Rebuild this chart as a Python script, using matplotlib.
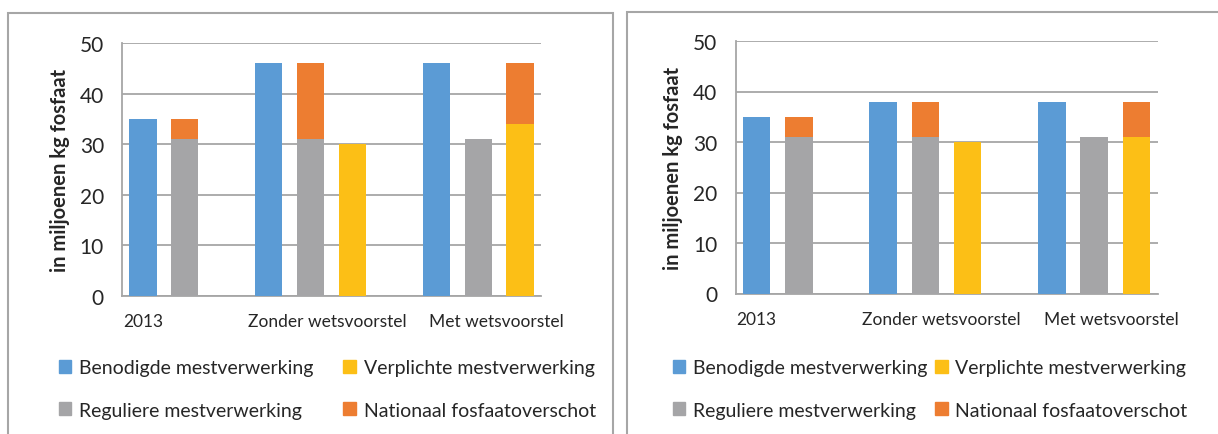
import matplotlib.pyplot as plt
from matplotlib.patches import Rectangle, Patch

plt.rcParams['font.family'] = ['Lato', 'DejaVu Sans']

groups = ['2013', 'Zonder wetsvoorstel', 'Met wetsvoorstel']
series = ['Benodigde mestverwerking', 'Verplichte mestverwerking',
          'Reguliere mestverwerking', 'Nationaal fosfaatoverschot']

# linker grafiek
benodigd_l = [35, 46, 46]
regulier_l = [31, 31, 31]
verplicht_l = [None, 30, 34]
overschot_l = [4, 15, 12]

# rechter grafiek
benodigd_r = [35, 38, 38]
regulier_r = [31, 31, 31]
verplicht_r = [None, 30, 31]
overschot_r = [4, 7, 7]

# op welke balk het overschot gestapeld staat
overschot_op = ['regulier', 'regulier', 'verplicht']

colors = {'benodigd': '#5b9bd5', 'verplicht': '#fcbf16',
          'regulier': '#a5a5a7', 'overschot': '#ed7d31'}
grey = '#a6a6a6'
text_col = '#262626'

group_start = [0, 3, 7]
width = 0.65


def draw(ax, benodigd, regulier, verplicht, overschot):
    for i in range(len(groups)):
        x0 = group_start[i]
        ax.bar(x0, benodigd[i], width, color=colors['benodigd'], zorder=3)
        ax.bar(x0 + 1, regulier[i], width, color=colors['regulier'], zorder=3)
        if verplicht[i] is not None:
            ax.bar(x0 + 2, verplicht[i], width, color=colors['verplicht'], zorder=3)
        if overschot_op[i] == 'regulier':
            ax.bar(x0 + 1, overschot[i], width, bottom=regulier[i],
                   color=colors['overschot'], zorder=3)
        else:
            ax.bar(x0 + 2, overschot[i], width, bottom=verplicht[i],
                   color=colors['overschot'], zorder=3)

    ax.set_xlim(-0.5, 9.5)
    ax.set_ylim(0, 50)
    ax.set_yticks(range(0, 51, 10))
    ax.yaxis.grid(True, color=grey, linewidth=1.3, zorder=0)
    ax.set_xticks([])
    for s in ['top', 'right']:
        ax.spines[s].set_visible(False)
    for s in ['left', 'bottom']:
        ax.spines[s].set_color(grey)
        ax.spines[s].set_linewidth(1.3)
    ax.tick_params(axis='y', length=0, pad=13, labelsize=15, labelcolor=text_col)
    ax.set_ylabel('in miljoenen kg fosfaat', fontsize=14.5, fontweight='bold',
                  color=text_col, labelpad=7)

    # categorie labels staan links uitgelijnd
    label_x = [-0.48, 2.5, 6.82]
    for lx, g in zip(label_x, groups):
        ax.text(lx, -5, g, ha='left', va='center', fontsize=12.5, color=text_col)


fig = plt.figure(figsize=(12.18, 4.35), dpi=100)

# kaders
fig.patches.append(Rectangle((8 / 1218, -0.1), (613 - 8) / 1218, 1.1 - 14 / 435,
                             transform=fig.transFigure, fill=False,
                             edgecolor=grey, linewidth=1.5))
fig.patches.append(Rectangle((627 / 1218, -0.1), 1.0, 1.1 - 12.5 / 435,
                             transform=fig.transFigure, fill=False,
                             edgecolor=grey, linewidth=1.5))

ax1 = fig.add_axes([122 / 1218, (435 - 297) / 435, 419 / 1218, 253 / 435])
ax2 = fig.add_axes([735.5 / 1218, (435 - 294.5) / 435, 422 / 1218, 252.5 / 435])

draw(ax1, benodigd_l, regulier_l, verplicht_l, overschot_l)
draw(ax2, benodigd_r, regulier_r, verplicht_r, overschot_r)

handles = [Patch(color=colors['benodigd'], label=series[0]),
           Patch(color=colors['regulier'], label=series[2]),
           Patch(color=colors['verplicht'], label=series[1]),
           Patch(color=colors['overschot'], label=series[3])]

for x, colsp in [(41 / 1218, 1.55), (655 / 1218, 0.4)]:
    fig.legend(handles=handles, loc='upper left', bbox_to_anchor=(x, 1 - 343 / 435),
               ncol=2, frameon=False, fontsize=14, handlelength=0.65,
               handleheight=0.65, handletextpad=0.4, columnspacing=colsp,
               labelspacing=1.3, labelcolor=text_col)

plt.savefig('out.png', dpi=100)
